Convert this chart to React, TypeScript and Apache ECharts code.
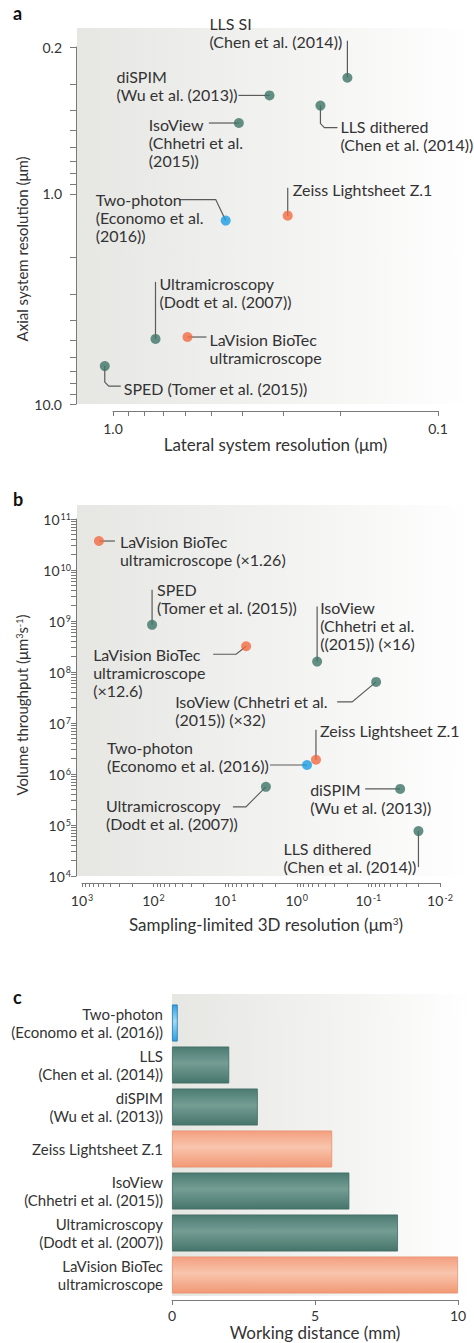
import React, { useEffect, useRef } from 'react';
import * as echarts from 'echarts';

const FONT = 'Lato, "Open Sans", "Noto Sans", sans-serif';
const TEXT = '#333333';
const AXIS = '#7a7a7a';
const LEADER = '#5a5a5a';
const COLORS: Record<string, string> = { lightsheet: '#3f7468', commercial: '#f26a40', twophoton: '#1a9de5' };

// ---------- Panel a: lateral vs axial resolution ----------
const aLabels = [
  'LLS SI\n(Chen et al. (2014))',
  'diSPIM\n(Wu et al. (2013))',
  'LLS dithered\n(Chen et al. (2014))',
  'IsoView\n(Chhetri et al.\n(2015))',
  'Two-photon\n(Economo et al.\n(2016))',
  'Zeiss Lightsheet Z.1',
  'Ultramicroscopy\n(Dodt et al. (2007))',
  'LaVision BioTec\nultramicroscope',
  'SPED (Tomer et al. (2015))',
];
const aLateral = [0.19, 0.33, 0.23, 0.41, 0.45, 0.29, 0.74, 0.59, 1.06];
const aAxial = [0.28, 0.34, 0.38, 0.46, 1.34, 1.27, 4.9, 4.8, 6.6];
const aGroup = ['lightsheet', 'lightsheet', 'lightsheet', 'lightsheet', 'twophoton', 'commercial', 'lightsheet', 'commercial', 'lightsheet'];
const aXTicks = [0.1, 1];
const aYTicks = [0.2, 1, 10];

// ---------- Panel b: 3D resolution vs volume throughput ----------
const bLabels = [
  'LaVision BioTec\nultramicroscope (×1.26)',
  'SPED\n(Tomer et al. (2015))',
  'LaVision BioTec\nultramicroscope\n(×12.6)',
  'IsoView\n(Chhetri et al.\n((2015)) (×16)',
  'IsoView (Chhetri et al.\n(2015)) (×32)',
  'Zeiss Lightsheet Z.1',
  'Two-photon\n(Economo et al. (2016))',
  'Ultramicroscopy\n(Dodt et al. (2007))',
  'diSPIM\n(Wu et al. (2013))',
  'LLS dithered\n(Chen et al. (2014))',
];
const bResolution = [580, 105, 5.1, 0.52, 0.078, 0.54, 0.72, 2.7, 0.036, 0.02];
const bThroughput = [3.7e10, 8.4e8, 3.2e8, 1.6e8, 6.4e7, 1.9e6, 1.5e6, 5.6e5, 5.1e5, 7.6e4];
const bGroup = ['commercial', 'lightsheet', 'commercial', 'lightsheet', 'lightsheet', 'commercial', 'twophoton', 'lightsheet', 'lightsheet', 'lightsheet'];
const bXTicks = [0.01, 0.1, 1, 10, 100, 1000];
const bYTicks = [1e4, 1e5, 1e6, 1e7, 1e8, 1e9, 1e10, 1e11];

// ---------- Panel c: working distance ----------
const cCategories = [
  'Two-photon\n(Economo et al. (2016))',
  'LLS\n(Chen et al. (2014))',
  'diSPIM\n(Wu et al. (2013))',
  'Zeiss Lightsheet Z.1',
  'IsoView\n(Chhetri et al. (2015))',
  'Ultramicroscopy\n(Dodt et al. (2007))',
  'LaVision BioTec\nultramicroscope',
];
const cWorkingDistance = [0.2, 2.0, 3.0, 5.6, 6.2, 7.9, 10.0];
const cGroup = ['twophoton', 'lightsheet', 'lightsheet', 'commercial', 'lightsheet', 'lightsheet', 'commercial'];

// ---------- label placement (pixel offsets from each dot) ----------
type Lay = { dx: number; dy: number; line: number[][] };
const aLayout: Lay[] = [
  { dx: -138, dy: -63, line: [[0, 0], [0, -37]] },
  { dx: -153, dy: -28, line: [[0, 0], [-31, 0]] },
  { dx: 20, dy: 12, line: [[0, 0], [0, 18], [4, 22], [17, 22]] },
  { dx: -90, dy: -8, line: [[0, 0], [-30, 0]] },
  { dx: -130, dy: -30, line: [[0, 0], [-10, -21], [-46, -21]] },
  { dx: 5, dy: -35, line: [[0, 0], [0, -28]] },
  { dx: 4, dy: -64, line: [[0, 0], [0, -57]] },
  { dx: 22, dy: -7, line: [[0, 0], [19, 0]] },
  { dx: 19, dy: 13, line: [[0, 0], [0, 16], [4, 20], [16, 20]] },
];
const bLayout: Lay[] = [
  { dx: 21, dy: -9, line: [[0, 0], [16, 0]] },
  { dx: 5, dy: -44, line: [[0, 0], [0, -35]] },
  { dx: -153, dy: -1, line: [[0, 0], [-10, 8], [-33, 8]] },
  { dx: 3, dy: -63, line: [[0, 0], [0, -55]] },
  { dx: -201, dy: 11, line: [[0, 0], [-24, 20], [-39, 20]] },
  { dx: 4, dy: -38, line: [[0, 0], [0, -30]] },
  { dx: -200, dy: -27, line: [[0, 0], [-37, 0]] },
  { dx: -160, dy: 10, line: [[0, 0], [-20, 20], [-33, 20]] },
  { dx: -90, dy: -8, line: [[0, 0], [-35, 0]] },
  { dx: -135, dy: 8, line: [[0, 0], [0, 36]] },
];

// all log ticks: decades plus 2..9 × 10^k inside [lo, hi]
function logTicks(lo: number, hi: number, majors: number[]): number[] {
  const out: number[] = [...majors];
  for (let k = -3; k <= 12; k++) {
    for (let m = 2; m <= 9; m++) {
      const v = m * Math.pow(10, k);
      if (v > lo * 1.0001 && v < hi * 0.9999) out.push(v);
    }
  }
  return out.sort((p, q) => p - q);
}

const axisLine = { show: true, lineStyle: { color: AXIS, width: 1 } };
const labelStyle = { fontSize: 14, fontFamily: FONT, color: TEXT };
const nameStyle = { fontSize: 17, fontFamily: FONT, color: TEXT };
const supRich = {
  b: { fontSize: 14, fontFamily: FONT, color: TEXT },
  s: { fontSize: 9, fontFamily: FONT, color: TEXT, verticalAlign: 'top', padding: [0, 0, 0, 1] },
};
const nameRich = (size: number) => ({ s: { fontSize: size, fontFamily: FONT, color: TEXT, verticalAlign: 'top' } });
const powLabel = (v: number) => `{b|10}{s|${Math.round(Math.log10(v))}}`;

function annotations(labels: string[], layout: Lay[], axisIdx: number, xs: number[], ys: number[]) {
  return {
    type: 'custom',
    xAxisIndex: axisIdx,
    yAxisIndex: axisIdx,
    clip: false,
    silent: true,
    z: 2,
    data: xs.map((x, i) => [x, ys[i]]),
    renderItem: (params: any, api: any) => {
      const i = params.dataIndex;
      const p = api.coord([api.value(0), api.value(1)]);
      const L = layout[i];
      return {
        type: 'group',
        children: [
          {
            type: 'polyline',
            shape: { points: L.line.map((q) => [p[0] + q[0], p[1] + q[1]]) },
            style: { stroke: LEADER, lineWidth: 1.2, fill: 'none' },
          },
          {
            type: 'text',
            style: {
              text: labels[i],
              x: p[0] + L.dx,
              y: p[1] + L.dy,
              align: 'left',
              verticalAlign: 'top',
              fontSize: 16,
              fontFamily: FONT,
              fill: TEXT,
              lineHeight: 18,
            },
          },
        ],
      };
    },
  };
}

function scatter(axisIdx: number, xs: number[], ys: number[], groups: string[]) {
  return {
    type: 'scatter',
    xAxisIndex: axisIdx,
    yAxisIndex: axisIdx,
    clip: false,
    z: 3,
    symbolSize: 10,
    data: xs.map((x, i) => ({ value: [x, ys[i]], itemStyle: { color: COLORS[groups[i]] } })),
  };
}

const barGrad = (stops: string[]) =>
  new echarts.graphic.LinearGradient(0, 0, 0, 1, [
    { offset: 0, color: stops[0] },
    { offset: 0.45, color: stops[1] },
    { offset: 1, color: stops[2] },
  ]);
const BAR_FILL: Record<string, string[]> = {
  lightsheet: ['#4c7b71', '#749d94', '#47756b'],
  commercial: ['#f39f7f', '#f8c5ad', '#f29875'],
  twophoton: ['#2e9fe2', '#a2d9f5', '#2e9fe2'],
};
const BAR_BORDER: Record<string, string> = { lightsheet: '#3f6b61', commercial: '#e8906f', twophoton: '#2379ae' };

const bgGrad = () =>
  new echarts.graphic.LinearGradient(0, 0, 1, 0, [
    { offset: 0, color: '#e6e6e3' },
    { offset: 0.6, color: '#f4f4f3' },
    { offset: 1, color: '#ffffff' },
  ]);

const option: any = {
  animation: false,
  backgroundColor: '#ffffff',
  graphic: [
    { type: 'rect', z: -10, shape: { x: 77, y: 28, width: 397, height: 376 }, style: { fill: bgGrad() } },
    { type: 'rect', z: -10, shape: { x: 77, y: 505, width: 397, height: 371 }, style: { fill: bgGrad() } },
    { type: 'rect', z: -10, shape: { x: 172, y: 994, width: 302, height: 302 }, style: { fill: bgGrad() } },
    { type: 'text', left: 13, top: 4, style: { text: 'a', fontSize: 18, fontWeight: 'bold', fontFamily: FONT, fill: '#111' } },
    { type: 'text', left: 13, top: 490, style: { text: 'b', fontSize: 18, fontWeight: 'bold', fontFamily: FONT, fill: '#111' } },
    { type: 'text', left: 13, top: 988, style: { text: 'c', fontSize: 18, fontWeight: 'bold', fontFamily: FONT, fill: '#111' } },
    {
      type: 'text', x: 22, y: 249, rotation: Math.PI / 2,
      style: { text: 'Axial system resolution (μm)', align: 'center', verticalAlign: 'middle', fontSize: 15, fontFamily: FONT, fill: TEXT },
    },
    {
      type: 'text', x: 22, y: 705, rotation: Math.PI / 2,
      style: {
        text: 'Volume throughput (μm{s|3}s{s|-1})', align: 'center', verticalAlign: 'middle', fontSize: 15, fontFamily: FONT, fill: TEXT,
        rich: { s: { fontSize: 9, fontFamily: FONT, fill: TEXT, verticalAlign: 'top' } },
      },
    },
  ],
  grid: [
    { left: 113, right: 36, top: 47, bottom: 939 },
    { left: 82, right: 34, top: 519, bottom: 467 },
    { left: 172, right: 16, top: 1002, bottom: 47 },
  ],
  xAxis: [
    {
      gridIndex: 0, type: 'log', inverse: true, min: 0.1, max: 1, position: 'bottom', offset: 7,
      axisLine, splitLine: { show: false },
      axisTick: { show: true, customValues: logTicks(0.1, 1, aXTicks), length: 5, lineStyle: { color: AXIS } },
      axisLabel: { ...labelStyle, customValues: aXTicks, margin: 10, formatter: (v: number) => v.toFixed(1) },
      name: 'Lateral system resolution (μm)', nameLocation: 'middle', nameGap: 24, nameTextStyle: nameStyle,
    },
    {
      gridIndex: 1, type: 'log', inverse: true, min: 0.01, max: 1000, position: 'bottom', offset: 7,
      axisLine, splitLine: { show: false },
      axisTick: { show: true, customValues: logTicks(0.01, 1000, bXTicks), length: 4, lineStyle: { color: AXIS } },
      axisLabel: { ...labelStyle, customValues: bXTicks, margin: 10, formatter: powLabel, rich: supRich },
      name: 'Sampling-limited 3D resolution (μm{s|3})', nameLocation: 'middle', nameGap: 33,
      nameTextStyle: { ...nameStyle, padding: [0, 0, 0, 10], rich: nameRich(10) },
    },
    {
      gridIndex: 2, type: 'value', min: 0, max: 10, interval: 5, position: 'bottom', offset: 4,
      axisLine, splitLine: { show: false },
      axisTick: { show: true, length: 5, lineStyle: { color: AXIS } },
      axisLabel: { ...labelStyle, margin: 8 },
      name: 'Working distance (mm)', nameLocation: 'middle', nameGap: 24, nameTextStyle: nameStyle,
    },
  ],
  yAxis: [
    {
      gridIndex: 0, type: 'log', inverse: true, min: 0.2, max: 10, position: 'left', offset: 37,
      axisLine, splitLine: { show: false },
      axisTick: { show: true, customValues: logTicks(0.2, 10, aYTicks), length: 6, lineStyle: { color: AXIS } },
      axisLabel: { ...labelStyle, customValues: aYTicks, margin: 14, formatter: (v: number) => v.toFixed(1) },
    },
    {
      gridIndex: 1, type: 'log', min: 1e4, max: 1e11, position: 'left', offset: 6,
      axisLine, splitLine: { show: false },
      axisTick: { show: true, customValues: logTicks(1e4, 1e11, bYTicks), length: 5, lineStyle: { color: AXIS } },
      axisLabel: { ...labelStyle, customValues: bYTicks, margin: 5, formatter: powLabel, rich: supRich },
    },
    {
      gridIndex: 2, type: 'category', inverse: true, data: cCategories,
      axisLine: { show: false }, axisTick: { show: false }, splitLine: { show: false },
      axisLabel: { ...labelStyle, fontSize: 15, lineHeight: 18, margin: 9 },
    },
  ],
  series: [
    annotations(aLabels, aLayout, 0, aLateral, aAxial),
    scatter(0, aLateral, aAxial, aGroup),
    annotations(bLabels, bLayout, 1, bResolution, bThroughput),
    scatter(1, bResolution, bThroughput, bGroup),
    {
      type: 'bar',
      xAxisIndex: 2,
      yAxisIndex: 2,
      barCategoryGap: '12%',
      data: cWorkingDistance.map((v, i) => ({
        value: v,
        itemStyle: { color: barGrad(BAR_FILL[cGroup[i]]), borderColor: BAR_BORDER[cGroup[i]], borderWidth: 0.8 },
      })),
    },
  ],
};

export default function App() {
  const ref = useRef<HTMLDivElement>(null);
  useEffect(() => {
    document.body.style.margin = '0';
    const chart = echarts.init(ref.current!, null, { renderer: 'svg' });
    chart.setOption(option);
    return () => chart.dispose();
  }, []);
  return <div ref={ref} style={{ width: 474, height: 1343 }} />;
}
